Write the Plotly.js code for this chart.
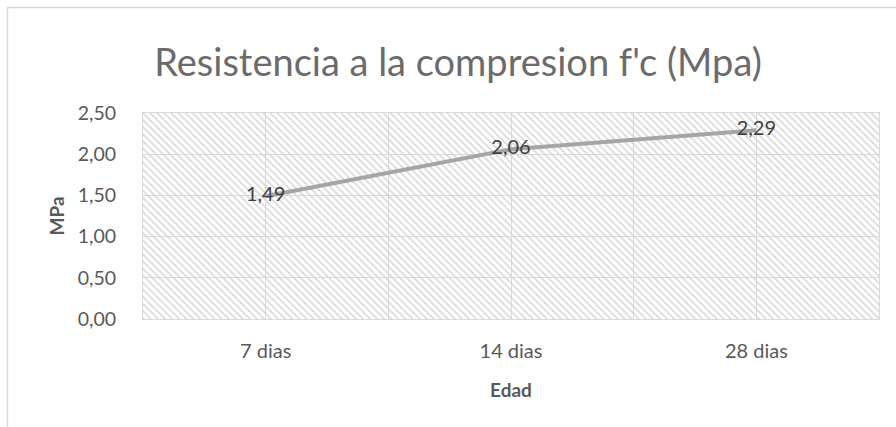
<!DOCTYPE html>
<html>
<head>
<meta charset="utf-8">
<script src="https://cdn.plot.ly/plotly-3.0.1.min.js"></script>
<style>html,body{margin:0;padding:0;background:#fff;}#chart{width:896px;height:427px;}</style>
</head>
<body>
<div id="chart"></div>
<script>
const categories = ["7 dias", "14 dias", "28 dias"];
const values = [1.49, 2.06, 2.29];
const labels = ["1,49", "2,06", "2,29"];
const yTickVals = [0, 0.5, 1, 1.5, 2, 2.5];
const yTickText = ["0,00", "0,50", "1,00", "1,50", "2,00", "2,50"];
const yMax = 2.5;

const W = 896, H = 427;
const m = {l: 143, r: 17, t: 113, b: 108};
const pw = W - m.l - m.r, ph = H - m.t - m.b;
const px = v => (v - m.l) / pw;
const py = v => (H - m.b - v) / ph;

const FONT = "Lato, 'Open Sans', sans-serif";
const grid = "#D9D9D9";

const hatch = {
  type: "bar", x: categories, y: categories.map(() => yMax),
  xaxis: "x", yaxis: "y", width: 1,
  marker: {color: "rgba(0,0,0,0)", line: {width: 0},
    pattern: {shape: "\\", fgcolor: "#D6D6D6", bgcolor: "rgba(0,0,0,0)", size: 5, solidity: 0.3}},
  hoverinfo: "skip", showlegend: false
};
const line = {
  type: "scatter", mode: "lines+text", x: categories, y: values,
  xaxis: "x2", yaxis: "y",
  text: labels, textposition: "middle center",
  textfont: {family: FONT, size: 20, color: "#404040"},
  line: {color: "#A5A5A5", width: 4},
  showlegend: false
};

const layout = {
  width: W, height: H, margin: m,
  paper_bgcolor: "#fff", plot_bgcolor: "#fff",
  font: {family: FONT, color: "#595959"},
  title: {text: "Resistencia a la compresion f'c (Mpa)", x: 458 / W, xanchor: "center",
    y: 1 - 63 / H, yanchor: "middle", font: {family: FONT, size: 38, color: "#6b6b6b", weight: 400}},
  showlegend: false,
  bargap: 0,
  xaxis: {type: "category", range: [-0.5, 2.5], tickson: "boundaries", showgrid: true,
    gridcolor: grid, gridwidth: 1, showticklabels: false, ticks: "", showline: true,
    linecolor: grid, mirror: true, zeroline: false, fixedrange: true},
  xaxis2: {type: "category", overlaying: "x", side: "bottom", range: [-0.5, 2.5],
    showgrid: true, gridcolor: grid, gridwidth: 1, ticks: "", ticklabelstandoff: 18,
    tickfont: {family: FONT, size: 20, color: "#595959"}, showline: false, zeroline: false,
    title: {text: "<b>Edad</b>", standoff: 22, font: {family: FONT, size: 19, color: "#595959"}}},
  yaxis: {range: [0, yMax], tickvals: yTickVals, ticktext: yTickText, showgrid: true,
    gridcolor: grid, gridwidth: 1, zeroline: false, ticks: "", ticklabelstandoff: 22,
    showline: true, linecolor: grid, mirror: true,
    tickfont: {family: FONT, size: 19.5, color: "#595959"},
    title: {text: "<b>MPa</b>", standoff: 8, font: {family: FONT, size: 19, color: "#595959"}}},
  shapes: [{type: "rect", xref: "paper", yref: "paper",
    x0: px(7.5), x1: px(W + 5), y0: py(H + 5), y1: py(7.5),
    line: {color: "#D9D9D9", width: 1.5}, fillcolor: "rgba(0,0,0,0)", layer: "below"}]
};

Plotly.newPlot("chart", [hatch, line], layout, {displayModeBar: false, staticPlot: true});
</script>
</body>
</html>
